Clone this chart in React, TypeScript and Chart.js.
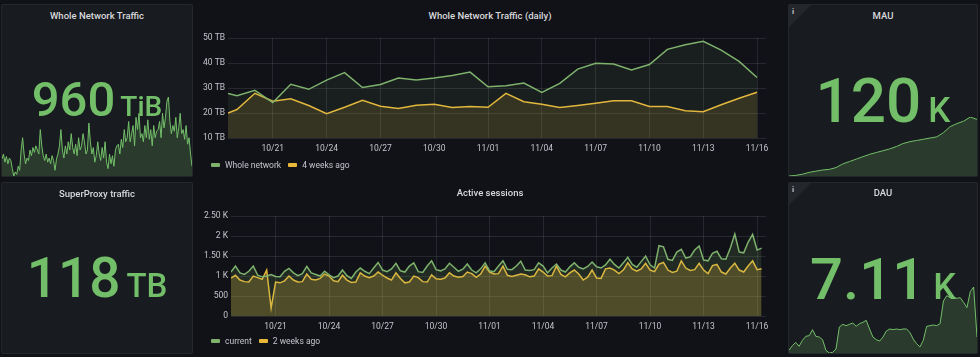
import React, { useEffect, useRef } from 'react';
import { Chart, registerables } from 'chart.js';
Chart.register(...registerables);

const FONT = 'Roboto, "Noto Sans", "DejaVu Sans", sans-serif';
const GREEN = '#7EB26D';
const YELLOW = '#EAB839';
const STAT_GREEN = '#73BF69';
const GRID = 'rgba(204,204,220,0.12)';
const TICK = '#c4c5cc';

// ---- Whole Network Traffic (daily): x = days since 10/18 ----
const trafficDays = [0.5, 1, 2, 3, 4, 5, 6, 7, 8, 9, 10, 11, 12, 13, 14, 15, 16, 17, 18, 19, 20, 21, 22, 23, 24, 25, 26, 27, 28, 29, 30];
const wholeNetworkTB = [27.8, 26.9, 29.1, 24.2, 31.5, 29.5, 33.2, 36.2, 30.2, 31.4, 34.0, 33.2, 34.0, 35.0, 36.4, 30.5, 30.9, 32.0, 28.3, 31.9, 37.6, 39.9, 39.6, 37.2, 39.4, 45.5, 47.3, 48.7, 45.2, 40.7, 34.2];
const fourWeeksAgoTB = [20.0, 21.4, 27.9, 24.7, 25.7, 23.0, 19.7, 22.3, 25.1, 22.7, 21.8, 23.1, 23.5, 22.2, 22.6, 22.3, 27.9, 24.5, 23.5, 22.2, 23.0, 23.9, 24.9, 24.9, 22.6, 22.6, 20.9, 20.5, 23.3, 25.9, 28.3];
const dayTicks = [3, 6, 9, 12, 15, 18, 21, 24, 27, 30];
const dayTickLabels = ['10/21', '10/24', '10/27', '10/30', '11/01', '11/04', '11/07', '11/10', '11/13', '11/16'];
const trafficYTicks = [10, 20, 30, 40, 50];
const trafficYLabels = ['10 TB', '20 TB', '30 TB', '40 TB', '50 TB'];

// ---- Active sessions: samples every 6h starting at day 0.5 ----
const sessionStartDay = 0.5;
const sessionStepDays = 0.25;
const currentSessions = [
  1100, 1250,
  1080, 1040, 1120, 1250,
  1020, 980, 1000, 1040,
  990, 980, 1120, 1190,
  1080, 1010, 1060, 1240,
  1080, 1040, 1000, 1120,
  1030, 960, 1000, 1150,
  1010, 940, 1100, 1200,
  1120, 1060, 1200, 1340,
  1150, 1110, 1180, 1320,
  1130, 1100, 1250, 1330,
  1110, 1090, 1250, 1380,
  1160, 1130, 1180, 1320,
  1220, 1120, 1170, 1300,
  1150, 1080, 1180, 1330,
  1130, 1110, 1250, 1380,
  1170, 1160, 1250, 1370,
  1150, 1140, 1160, 1330,
  1250, 1080, 1200, 1300,
  1150, 1100, 1230, 1330,
  1220, 1180, 1240, 1350,
  1230, 1200, 1280, 1420,
  1290, 1200, 1330, 1470,
  1290, 1220, 1360, 1500,
  1280, 1200, 1760, 1730,
  1420, 1390, 1600, 1670,
  1450, 1480, 1650, 1750,
  1400, 1380, 1570, 1620,
  1430, 1420, 1700, 2050,
  1600, 1580, 1850, 2040,
  1650, 1700,
];
const twoWeeksAgoSessions = [
  950, 1020,
  900, 860, 850, 1000,
  960, 920, 1150, 200,
  850, 830, 880, 1000,
  900, 850, 860, 1050,
  920, 900, 940, 1050,
  1000, 880, 860, 1020,
  900, 840, 850, 1080,
  1000, 960, 1000, 1100,
  1020, 950, 900, 1080,
  940, 830, 850, 1000,
  960, 860, 850, 1030,
  930, 920, 950, 1080,
  1000, 970, 990, 1100,
  1060, 970, 1050, 1250,
  1100, 1050, 1060, 1250,
  1020, 990, 1020, 1050,
  1030, 980, 1000, 1180,
  1100, 1000, 1010, 1250,
  1040, 980, 1080, 1150,
  1050, 900, 970, 1150,
  950, 940, 1180, 1200,
  1150, 1060, 1150, 1330,
  1180, 1120, 1180, 1320,
  1150, 1110, 1300, 1340,
  1150, 1090, 1120, 1380,
  1200, 1140, 1160, 1320,
  1150, 1060, 1260, 1290,
  1100, 1050, 1200, 1320,
  1150, 1100, 1250, 1380,
  1160, 1180,
];
const sessionYTicks = [0, 500, 1000, 1500, 2000, 2500];
const sessionYLabels = ['0', '500', '1 K', '1.50 K', '2 K', '2.50 K'];

// ---- Stat sparklines (relative levels) ----
const wholeTrafficSpark = [
  24, 30, 20, 27, 18, 25, 22, 12, 3, 8, 5, 15, 10,
  35, 50, 30, 18, 25, 22, 35, 28, 38, 32, 40, 35, 30, 60, 40, 28,
  22, 30, 20, 25, 18, 28, 22, 10, 24, 30, 40, 60, 35, 25,
  40, 30, 45, 35, 55, 38, 30, 42, 28, 50, 35, 40, 55, 45, 30, 35,
  68, 45, 30, 38, 20, 28, 45, 30, 22,
  38, 25, 45, 20, 12, 30, 18, 28, 15, 35, 40,
  42, 30, 48, 38, 60, 45, 50, 70, 45, 55, 65, 40, 75, 60, 80, 50,
  55, 45, 65, 50, 72, 48, 60, 40, 65, 50, 58,
  60, 70, 50, 80, 62, 75, 95, 100, 70, 55, 65,
  58, 75, 50, 62, 80, 55, 60, 48, 65, 42, 50, 30, 15,
];
const mauSpark = [0, 1, 3, 6, 8, 10, 11, 14, 20, 24, 28, 32, 36, 39, 42, 45, 49, 54, 57, 59, 61, 63, 65, 72, 82, 87, 91, 98, 94];
const dauSpark = [
  5, 12, 17, 11, 20, 26, 27, 36, 26, 25,
  21, 5, 1, 2, 7, 40, 44, 42, 44, 46,
  41, 45, 47, 50, 37, 25, 21, 19, 25, 34,
  37, 36, 37, 36, 37, 37, 32, 22, 15, 10,
  20, 41, 42, 43, 42, 45, 79, 87, 84, 85,
  83, 84, 77, 69, 93, 100, 25,
];

type Cfg = () => any;

function ChartCanvas({ left, top, width, height, config }: { left: number; top: number; width: number; height: number; config: Cfg }) {
  const ref = useRef<HTMLCanvasElement | null>(null);
  useEffect(() => {
    if (!ref.current) return;
    const chart = new Chart(ref.current, config());
    return () => chart.destroy();
  }, []);
  return (
    <canvas
      ref={ref}
      width={width}
      height={height}
      style={{ position: 'absolute', left, top, width, height, display: 'block' }}
    />
  );
}

function timeSeriesConfig(opts: {
  xs: number[];
  series: { data: number[]; color: string; fill: string }[];
  yTicks: number[];
  yLabels: string[];
  yWidth: number;
}): Cfg {
  return () => ({
    type: 'line',
    data: {
      datasets: opts.series.map((s) => ({
        data: s.data.map((v, i) => ({ x: opts.xs[i], y: v })),
        borderColor: s.color,
        backgroundColor: s.fill,
        borderWidth: 1.5,
        fill: 'origin',
        pointRadius: 0,
        tension: 0,
      })),
    },
    options: {
      responsive: false,
      animation: false,
      devicePixelRatio: 1,
      layout: { padding: { top: 8, right: 19, left: 0, bottom: 0 } },
      plugins: { legend: { display: false }, tooltip: { enabled: false }, title: { display: false } },
      scales: {
        x: {
          type: 'linear',
          min: 0.5,
          max: 30.5,
          afterBuildTicks: (s: any) => {
            s.ticks = dayTicks.map((v) => ({ value: v }));
          },
          afterFit: (s: any) => {
            s.height = 22;
          },
          ticks: {
            autoSkip: false,
            maxRotation: 0,
            padding: 6,
            color: TICK,
            font: { family: FONT, size: 8.5 },
            callback: (v: number) => {
              const i = dayTicks.indexOf(v);
              return i >= 0 ? dayTickLabels[i] : '';
            },
          },
          grid: { color: GRID, drawTicks: false },
          border: { display: false },
        },
        y: {
          min: opts.yTicks[0],
          max: opts.yTicks[opts.yTicks.length - 1],
          afterBuildTicks: (s: any) => {
            s.ticks = opts.yTicks.map((v) => ({ value: v }));
          },
          afterFit: (s: any) => {
            s.width = opts.yWidth;
          },
          ticks: {
            autoSkip: false,
            padding: 3,
            color: TICK,
            font: { family: FONT, size: 8.5 },
            callback: (v: number) => {
              const i = opts.yTicks.indexOf(v);
              return i >= 0 ? opts.yLabels[i] : '';
            },
          },
          grid: { color: GRID, drawTicks: false },
          border: { display: false },
        },
      },
    },
  });
}

function sparkConfig(data: number[]): Cfg {
  return () => ({
    type: 'line',
    data: {
      labels: data.map((_, i) => i),
      datasets: [
        {
          data,
          borderColor: STAT_GREEN,
          backgroundColor: 'rgba(115,191,105,0.2)',
          borderWidth: 1,
          fill: 'start',
          pointRadius: 0,
          tension: 0,
        },
      ],
    },
    options: {
      responsive: false,
      animation: false,
      devicePixelRatio: 1,
      layout: { padding: 0 },
      plugins: { legend: { display: false }, tooltip: { enabled: false } },
      scales: {
        x: { display: false, offset: false },
        y: { display: false, min: Math.min(...data), max: Math.max(...data) },
      },
    },
  });
}

function PanelBox({ left, top, width, height }: { left: number; top: number; width: number; height: number }) {
  return (
    <div
      style={{
        position: 'absolute',
        left,
        top,
        width,
        height,
        boxSizing: 'border-box',
        background: '#181b1f',
        border: '1px solid rgba(204,204,220,0.07)',
        borderRadius: 2,
      }}
    />
  );
}

function Title({ cx, cy, text }: { cx: number; cy: number; text: string }) {
  return (
    <div
      style={{
        position: 'absolute',
        left: cx - 150,
        width: 300,
        top: cy - 6,
        height: 12,
        lineHeight: '12px',
        textAlign: 'center',
        fontFamily: FONT,
        fontWeight: 500,
        fontSize: 9.5,
        color: '#d8d9dc',
        whiteSpace: 'nowrap',
      }}
    >
      {text}
    </div>
  );
}

function StatValue({ left, width, baseline, value, unit, fs, ufs, gap }: { left: number; width: number; baseline: number; value: string; unit: string; fs: number; ufs: number; gap: number }) {
  return (
    <div
      style={{
        position: 'absolute',
        left,
        width,
        top: baseline - 0.842 * fs,
        fontFamily: FONT,
        fontWeight: 500,
        fontSize: fs,
        lineHeight: `${fs}px`,
        textAlign: 'center',
        color: STAT_GREEN,
        whiteSpace: 'nowrap',
      }}
    >
      <span>{value}</span>
      <span style={{ fontSize: ufs, marginLeft: gap }}>{unit}</span>
    </div>
  );
}

function Legend({ left, cy, items }: { left: number; cy: number; items: { label: string; color: string }[] }) {
  return (
    <div
      style={{
        position: 'absolute',
        left,
        top: cy - 6,
        height: 12,
        display: 'flex',
        alignItems: 'center',
        fontFamily: FONT,
        fontSize: 8.5,
        color: TICK,
        whiteSpace: 'nowrap',
      }}
    >
      {items.map((it) => (
        <span key={it.label} style={{ display: 'flex', alignItems: 'center', marginRight: 7 }}>
          <span style={{ width: 9, height: 4, background: it.color, borderRadius: 1, marginRight: 5, display: 'inline-block' }} />
          <span>{it.label}</span>
        </span>
      ))}
    </div>
  );
}

function InfoCorner({ left, top }: { left: number; top: number }) {
  return (
    <>
      <div
        style={{
          position: 'absolute',
          left,
          top,
          width: 0,
          height: 0,
          borderTop: '22px solid #23262b',
          borderRight: '22px solid transparent',
        }}
      />
      <div
        style={{
          position: 'absolute',
          left: left + 3,
          top: top + 2,
          fontFamily: FONT,
          fontSize: 8,
          fontWeight: 700,
          lineHeight: '9px',
          color: '#c4c5cc',
        }}
      >
        i
      </div>
    </>
  );
}

const sessionXs = currentSessions.map((_, i) => sessionStartDay + i * sessionStepDays);

export default function App() {
  useEffect(() => {
    document.body.style.margin = '0';
    document.body.style.background = '#111217';
  }, []);
  return (
    <div style={{ position: 'absolute', left: 0, top: 0, width: 980, height: 357, background: '#111217', overflow: 'hidden' }}>
      {/* Left column */}
      <PanelBox left={1} top={4} width={192} height={173} />
      <ChartCanvas left={2} top={97} width={190} height={79} config={sparkConfig(wholeTrafficSpark)} />
      <Title cx={97} cy={16} text="Whole Network Traffic" />
      <StatValue left={1} width={192} baseline={116} value="960" unit="TiB" fs={49} ufs={28} gap={5} />

      <PanelBox left={1} top={182} width={192} height={172} />
      <Title cx={97} cy={194} text="SuperProxy traffic" />
      <StatValue left={1} width={192} baseline={297} value="118" unit="TB" fs={55} ufs={33} gap={6} />

      {/* Middle column */}
      <Title cx={490} cy={16} text="Whole Network Traffic (daily)" />
      <ChartCanvas
        left={195}
        top={30}
        width={590}
        height={130}
        config={timeSeriesConfig({
          xs: trafficDays,
          series: [
            { data: wholeNetworkTB, color: GREEN, fill: 'rgba(126,178,109,0.08)' },
            { data: fourWeeksAgoTB, color: YELLOW, fill: 'rgba(234,184,57,0.14)' },
          ],
          yTicks: trafficYTicks,
          yLabels: trafficYLabels,
          yWidth: 33,
        })}
      />
      <Legend left={211} cy={165} items={[{ label: 'Whole network', color: GREEN }, { label: '4 weeks ago', color: YELLOW }]} />

      <Title cx={490} cy={193} text="Active sessions" />
      <ChartCanvas
        left={195}
        top={208}
        width={590}
        height={130}
        config={timeSeriesConfig({
          xs: sessionXs,
          series: [
            { data: currentSessions, color: GREEN, fill: 'rgba(126,178,109,0.15)' },
            { data: twoWeeksAgoSessions, color: YELLOW, fill: 'rgba(234,184,57,0.25)' },
          ],
          yTicks: sessionYTicks,
          yLabels: sessionYLabels,
          yWidth: 36,
        })}
      />
      <Legend left={211} cy={341} items={[{ label: 'current', color: GREEN }, { label: '2 weeks ago', color: YELLOW }]} />

      {/* Right column */}
      <PanelBox left={788} top={4} width={190} height={173} />
      <ChartCanvas left={789} top={117} width={188} height={59} config={sparkConfig(mauSpark)} />
      <InfoCorner left={789} top={5} />
      <Title cx={883} cy={16} text="MAU" />
      <StatValue left={788} width={190} baseline={122} value="120" unit="K" fs={62} ufs={35} gap={7} />

      <PanelBox left={788} top={182} width={190} height={172} />
      <ChartCanvas left={789} top={287} width={188} height={66} config={sparkConfig(dauSpark)} />
      <InfoCorner left={789} top={183} />
      <Title cx={883} cy={193} text="DAU" />
      <StatValue left={788} width={190} baseline={299} value="7.11" unit="K" fs={58} ufs={36} gap={8} />
    </div>
  );
}
